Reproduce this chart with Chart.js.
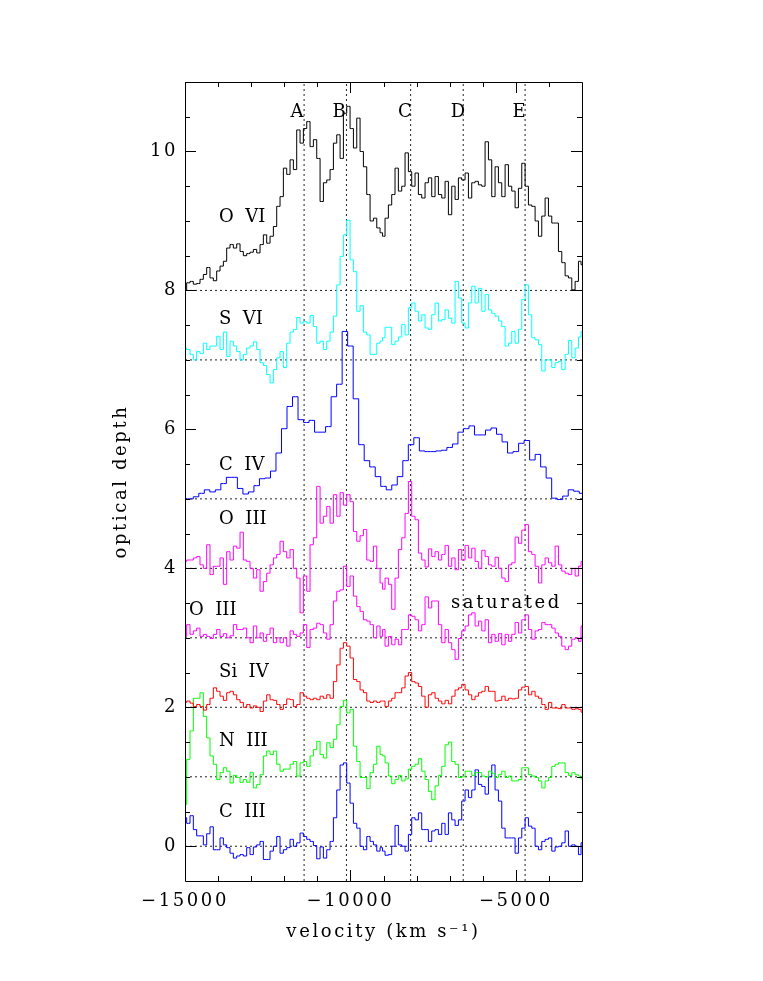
<!DOCTYPE html>
<html>
<head>
<meta charset="utf-8">
<title>optical depth</title>
<script src="https://cdn.jsdelivr.net/npm/chart.js@4/dist/chart.umd.min.js"></script>
<style>
  html, body { margin: 0; padding: 0; background: #fff; }
  canvas { display: block; }
</style>
</head>
<body>
<canvas id="grafico" width="763" height="981"></canvas>
<script>
// velocity bins (km/s)
const velFine = [
  -15000,-14899,-14798,-14698,-14597,-14496,-14395,-14294,-14194,-14093,
  -13992,-13891,-13790,-13690,-13589,-13488,-13387,-13286,-13186,-13085,
  -12984,-12883,-12782,-12682,-12581,-12480,-12379,-12278,-12178,-12077,
  -11976,-11875,-11774,-11674,-11573,-11472,-11371,-11270,-11170,-11069,
  -10968,-10867,-10766,-10666,-10565,-10464,-10363,-10262,-10162,-10061,
  -9960,-9859,-9758,-9658,-9557,-9456,-9355,-9254,-9154,-9053,
  -9004,-8903,-8802,-8702,-8601,-8500,-8399,-8298,-8198,-8097,
  -7996,-7895,-7794,-7694,-7593,-7492,-7391,-7290,-7190,-7089,
  -6988,-6887,-6786,-6686,-6585,-6484,-6383,-6282,-6182,-6081,
  -5980,-5879,-5778,-5678,-5577,-5476,-5375,-5274,-5174,-5073,
  -4972,-4871,-4770,-4670,-4569,-4468,-4367,-4266,-4166,-4065,
  -3964,-3863,-3762,-3662,-3561,-3460,-3359,-3258,-3158,-3057,
  -3000
];
const velCoarse = [
  -15000,-14833,-14667,-14500,-14333,-14167,-14000,-13833,-13667,-13500,
  -13333,-13167,-13000,-12833,-12667,-12500,-12333,-12167,-12000,-11833,
  -11667,-11500,-11333,-11167,-11000,-10833,-10667,-10500,-10333,-10167,
  -10000,-9833,-9667,-9500,-9333,-9167,-9000,-8833,-8667,-8500,
  -8333,-8167,-8000,-7833,-7667,-7500,-7333,-7167,-7000,-6833,
  -6667,-6500,-6333,-6167,-6000,-5833,-5667,-5500,-5333,-5167,
  -5000,-4833,-4667,-4500,-4333,-4167,-4000,-3833,-3667,-3500,
  -3333,-3167,-3000
];

const oVI = [
  8.0,8.11,8.13,8.09,8.10,8.16,8.23,8.33,8.18,8.14,
  8.28,8.35,8.42,8.61,8.66,8.61,8.67,8.56,8.50,8.53,
  8.55,8.59,8.54,8.66,8.80,8.68,8.78,8.92,9.21,9.35,
  9.76,9.67,9.88,9.74,10.31,10.12,10.33,10.43,10.07,10.17,
  9.90,9.28,9.55,9.59,9.74,10.12,10.24,9.90,10.55,10.65,
  10.33,10.05,10.48,10.0,9.78,9.38,9.0,9.04,8.90,8.83,
  8.78,9.04,9.23,9.38,9.76,9.43,9.50,9.98,9.71,9.50,
  9.69,9.38,9.33,9.55,9.62,9.35,9.64,9.38,9.33,9.57,
  9.09,9.50,9.31,9.62,9.59,9.69,9.33,9.55,9.57,9.52,
  9.50,10.14,9.88,9.35,9.78,9.55,9.35,9.81,9.50,9.43,
  9.19,9.47,9.83,9.50,9.23,9.21,9.0,8.78,9.07,9.33,
  9.07,8.97,8.97,8.56,8.40,8.21,8.18,8.01,8.13,8.42,
  8.37
];
const sVI = [
  7.17,7.15,7.08,7.0,7.12,7.09,7.24,7.15,7.20,7.20,
  7.34,7.15,7.40,7.05,7.27,7.20,7.12,7.0,7.08,7.17,
  7.20,7.26,7.15,6.96,6.92,6.79,6.67,6.86,7.03,7.12,
  6.89,7.24,7.40,7.44,7.61,7.53,7.55,7.53,7.64,7.48,
  7.24,7.27,7.15,7.27,7.40,7.63,8.08,8.49,8.80,9.01,
  8.44,8.27,7.70,7.78,7.40,7.36,7.08,7.08,7.24,7.27,
  7.32,7.47,7.47,7.22,7.27,7.33,7.51,7.36,7.75,7.82,
  7.70,7.56,7.65,7.46,7.44,7.65,7.82,7.56,7.58,7.72,
  7.60,7.53,8.13,7.89,7.53,7.46,7.82,8.06,7.82,8.03,
  7.70,7.94,7.72,7.67,7.63,7.56,7.48,7.20,7.24,7.41,
  7.24,7.44,7.87,8.08,7.65,7.32,7.29,7.22,6.84,7.0,
  7.0,6.89,6.96,6.98,6.86,7.08,7.28,7.03,7.17,7.33,
  7.41
];
const cIV = [
  5.0,5.0,5.03,5.08,5.13,5.10,5.13,5.22,5.31,5.31,
  5.15,5.07,5.10,5.19,5.29,5.30,5.40,5.66,6.01,6.33,
  6.47,6.14,6.10,6.13,5.96,5.96,6.04,6.47,6.65,7.41,
  7.20,6.44,5.78,5.55,5.46,5.32,5.18,5.13,5.20,5.32,
  5.55,5.78,5.88,5.69,5.68,5.68,5.69,5.70,5.74,5.79,
  5.96,6.01,6.05,5.92,5.92,5.99,6.02,5.93,5.82,5.66,
  5.68,5.80,5.84,5.56,5.64,5.46,5.30,5.01,4.99,5.04,
  5.13,5.11,5.08
];
const oIIIa = [
  4.10,4.12,4.12,4.15,4.17,4.05,4.0,4.34,3.91,4.03,
  4.03,4.15,3.77,4.24,4.12,4.32,4.29,4.52,4.12,4.10,
  4.0,3.86,3.98,3.67,3.81,3.93,4.05,4.15,4.20,4.39,
  4.24,4.15,4.27,4.0,3.86,3.36,3.89,3.67,4.34,4.44,
  5.18,4.65,4.75,4.89,4.65,5.06,4.75,5.09,4.91,5.06,
  4.96,4.53,4.39,4.47,4.56,4.12,4.10,4.32,4.0,3.79,
  3.70,3.86,3.77,3.41,3.86,4.27,4.44,4.79,5.25,4.75,
  4.70,4.22,4.12,4.02,4.28,4.17,4.24,4.12,4.20,4.33,
  4.03,4.15,3.98,4.27,4.12,4.33,4.15,4.29,4.10,4.0,
  4.26,4.17,4.05,4.03,4.16,4.0,3.86,3.81,4.05,4.08,
  4.45,4.36,4.55,4.63,4.24,4.20,4.03,3.79,4.05,4.15,
  4.08,4.03,4.32,4.05,3.96,3.93,3.91,4.0,3.89,4.03,
  4.10
];
const oIIIb = [
  3.02,3.19,3.05,3.10,3.14,3.02,3.05,3.02,2.99,3.05,
  3.12,3.02,3.06,3.0,3.03,3.19,3.12,3.12,3.14,3.0,
  2.93,3.17,3.0,3.07,2.95,3.05,3.14,2.93,3.0,2.93,
  3.0,2.88,3.10,3.05,3.02,3.07,3.19,2.86,3.12,3.14,
  3.21,3.19,3.07,2.98,3.19,3.53,3.67,3.69,4.03,3.74,
  3.89,3.60,3.45,3.38,3.26,3.24,3.19,3.0,3.17,3.02,
  3.12,2.88,3.02,2.90,2.98,2.90,3.12,3.12,3.33,3.31,
  3.26,3.10,3.19,3.59,3.43,3.53,3.53,3.19,2.93,3.12,
  2.93,2.83,2.69,2.99,3.10,3.17,3.33,3.36,3.17,3.24,
  3.10,3.26,2.93,3.05,2.95,3.06,2.90,3.05,2.95,3.05,
  3.22,3.07,3.26,3.33,3.12,2.98,3.10,3.12,3.22,3.19,
  3.19,3.14,3.07,3.02,2.88,2.83,2.88,2.98,3.0,2.95,
  3.17
];
const siIV = [
  2.07,2.09,2.06,2.01,2.04,2.01,1.96,2.04,2.13,2.28,
  2.23,2.16,2.10,2.21,2.23,2.18,2.11,2.07,2.0,2.04,
  1.99,2.02,2.0,1.94,2.09,2.18,2.11,2.10,2.04,1.97,
  2.04,2.12,2.11,2.01,2.04,2.21,2.16,2.13,2.11,2.13,
  2.11,2.16,2.13,2.18,2.13,2.37,2.61,2.85,2.93,2.88,
  2.71,2.40,2.37,2.25,2.21,2.09,2.07,2.09,2.07,2.09,
  2.09,2.01,2.09,2.13,2.21,2.21,2.28,2.45,2.50,2.37,
  2.35,2.30,2.16,2.0,2.18,2.21,2.13,2.09,2.05,2.10,
  2.05,2.16,2.25,2.28,2.33,2.25,2.18,2.11,2.16,2.21,
  2.23,2.30,2.23,2.23,2.09,2.10,2.16,2.10,2.13,2.12,
  2.13,2.25,2.29,2.30,2.18,2.23,2.16,2.13,2.04,1.97,
  2.07,1.99,1.99,1.98,2.04,1.99,1.99,1.97,1.98,1.97,
  1.93
];
const nIII = [
  0.60,1.25,1.66,2.13,2.13,2.21,1.87,1.56,1.30,1.18,
  0.96,1.06,1.13,1.08,0.91,1.02,0.99,0.92,0.96,0.92,
  1.06,0.84,0.89,1.03,1.30,1.37,1.32,1.37,1.18,1.08,
  1.11,1.11,1.18,1.22,1.01,1.20,1.22,1.15,1.30,1.39,
  1.51,1.32,1.27,1.49,1.42,1.54,1.75,2.01,2.10,1.92,
  1.97,1.44,1.22,0.99,0.99,0.83,1.06,1.18,1.44,1.32,
  1.30,1.20,1.01,0.90,0.96,1.02,0.94,0.97,1.11,1.15,
  1.18,1.26,1.08,0.96,0.79,0.67,0.87,1.02,1.15,1.46,
  1.50,1.22,1.18,0.99,1.0,1.08,1.08,1.02,1.06,1.06,
  1.01,1.0,1.08,1.05,0.99,1.03,1.08,0.99,1.01,0.94,
  0.94,0.96,1.13,1.13,1.03,1.01,0.99,0.94,0.84,0.94,
  0.99,1.15,1.18,1.20,1.20,1.06,1.02,1.06,1.03,1.01,
  0.97
];
const cIII = [
  0.41,0.33,0.44,0.24,0.15,0.15,0.02,0.18,0.28,-0.05,
  -0.05,0.12,0.02,-0.02,-0.10,-0.17,-0.14,-0.12,-0.14,-0.02,
  -0.12,-0.01,0.02,0.07,-0.19,-0.19,-0.07,0,0.14,-0.10,
  -0.05,-0.02,0.10,0,0.05,0.19,0.14,0.10,0.07,0.01,
  -0.18,-0.01,-0.17,-0.05,0.07,0.41,0.81,1.17,1.20,0.91,
  0.62,0.33,0.26,0,-0.05,0.14,0.07,0.02,-0.07,-0.02,
  -0.07,-0.13,-0.12,0,0.30,0.02,0,-0.07,0.17,0.41,
  0.38,0.48,0.24,0.24,0.07,0.22,0.24,0.17,0.33,0.17,
  0.48,0.38,0.30,0.38,0.65,0.81,0.70,0.81,1.10,0.89,
  0.86,0.75,1.0,1.17,0.81,0.65,0.26,0.12,0.12,0.12,
  -0.10,0.12,0.26,0.41,0.29,0.26,0,-0.05,0.07,0.10,
  0.12,-0.07,-0.01,0,0.05,0.22,0,0.02,0,-0.12,
  0.05
];

// dotted guides
const baselines = [8, 7, 5, 4, 3, 2, 1, 0];
const components = [-11400, -10120, -8180, -6590, -4720];

// text inside the plot: [text, velocity, depth]
const ionLabels = [
  ['O  VI', -13970, 9.05],
  ['S  VI', -13970, 7.59],
  ['C  IV', -13970, 5.48],
  ['O  III', -13970, 4.71],
  ['O  III', -14880, 3.39],
  ['Si  IV', -13970, 2.50],
  ['N  III', -13970, 1.51],
  ['C  III', -13970, 0.49]
];
const sideNote = ['saturated', -6960, 3.49];
const componentNames = ['A', 'B', 'C', 'D', 'E'];
const componentNameVel = [-11614, -10345, -8350, -6747, -4903];
const componentNameDepth = 10.56;

const xMajor = [-15000, -10000, -5000];
const xMinor = [-14000, -13000, -12000, -11000, -9000, -8000, -7000, -6000, -4000];
const yMajor = [0, 2, 4, 6, 8, 10];
const yMinor = [0.5, 1, 1.5, 2.5, 3, 3.5, 4.5, 5, 5.5, 6.5, 7, 7.5, 8.5, 9, 9.5, 10.5];

const fuente = '"DejaVu Serif"';

function puntos(xs, ys) {
  return xs.map((x, i) => ({ x: x, y: ys[i] }));
}

function espectro(vel, valores, color) {
  return {
    data: puntos(vel, valores),
    borderColor: color,
    borderWidth: 1,
    stepped: 'middle',
    pointRadius: 0,
    fill: false
  };
}

function guia(data) {
  return {
    data: data,
    borderColor: '#222',
    borderWidth: 1,
    borderDash: [2, 3],
    pointRadius: 0,
    fill: false
  };
}

const marco = {
  id: 'marco',
  // axis text in the reference is set wide
  beforeDraw(chart) {
    chart.ctx.letterSpacing = '2.6px';
  },
  afterDatasetsDraw(chart) {
    const { ctx, chartArea: a, scales: { x, y } } = chart;
    ctx.save();
    ctx.strokeStyle = '#000';
    ctx.lineWidth = 1;
    ctx.beginPath();
    ctx.rect(Math.round(a.left) + 0.5, Math.round(a.top) + 0.5, Math.round(a.right - a.left), Math.round(a.bottom - a.top));
    const tickX = (v, len) => {
      const px = Math.round(x.getPixelForValue(v)) + 0.5;
      ctx.moveTo(px, a.bottom); ctx.lineTo(px, a.bottom - len);
      ctx.moveTo(px, a.top); ctx.lineTo(px, a.top + len);
    };
    const tickY = (v, len) => {
      const py = Math.round(y.getPixelForValue(v)) + 0.5;
      ctx.moveTo(a.left, py); ctx.lineTo(a.left + len, py);
      ctx.moveTo(a.right, py); ctx.lineTo(a.right - len, py);
    };
    xMajor.forEach(v => tickX(v, 11));
    xMinor.forEach(v => tickX(v, 5));
    yMajor.forEach(v => tickY(v, 11));
    yMinor.forEach(v => tickY(v, 5));
    ctx.stroke();

    ctx.fillStyle = '#000';
    ctx.font = '18px ' + fuente;
    ctx.textBaseline = 'middle';
    ctx.textAlign = 'left';
    ctx.fillText(sideNote[0], x.getPixelForValue(sideNote[1]), y.getPixelForValue(sideNote[2]));
    ctx.letterSpacing = '0px';
    ionLabels.forEach(l => {
      ctx.fillText(l[0], x.getPixelForValue(l[1]), y.getPixelForValue(l[2]));
    });
    ctx.textAlign = 'center';
    componentNames.forEach((n, i) => {
      ctx.fillText(n, x.getPixelForValue(componentNameVel[i]), y.getPixelForValue(componentNameDepth));
    });
    ctx.restore();
  }
};

const datasets = [
  espectro(velFine, oVI, '#000000'),
  espectro(velFine, sVI, '#00ffff'),
  espectro(velCoarse, cIV, '#0000ff'),
  espectro(velFine, oIIIa, '#ff00ff'),
  espectro(velFine, oIIIb, '#ff00ff'),
  espectro(velFine, siIV, '#ff0000'),
  espectro(velFine, nIII, '#00ff00'),
  espectro(velFine, cIII, '#0000ff')
];
baselines.forEach(b => datasets.push(guia([{ x: -15000, y: b }, { x: -3000, y: b }])));
components.forEach(c => datasets.push(guia([{ x: c, y: -0.5 }, { x: c, y: 11 }])));

new Chart(document.getElementById('grafico').getContext('2d'), {
  type: 'line',
  data: { datasets: datasets },
  options: {
    responsive: false,
    animation: false,
    layout: { padding: { top: 82, right: 181, bottom: 0, left: 0 } },
    plugins: { legend: { display: false }, tooltip: { enabled: false } },
    scales: {
      x: {
        type: 'linear',
        min: -15000,
        max: -3000,
        afterFit: s => { s.height = 100; },
        afterBuildTicks: s => { s.ticks = xMajor.map(v => ({ value: v })); },
        grid: { display: false, drawTicks: false },
        border: { display: false },
        ticks: {
          color: '#000',
          font: { family: fuente, size: 18 },
          padding: 10,
          maxRotation: 0,
          callback: v => '\u2212' + Math.abs(v)
        },
        title: {
          display: true,
          text: 'velocity (km s\u207B\u00B9)',
          color: '#000',
          font: { family: fuente, size: 18 },
          padding: { top: 0, bottom: 38 }
        }
      },
      y: {
        type: 'linear',
        min: -0.5,
        max: 11,
        afterFit: s => { s.width = 185; },
        afterBuildTicks: s => { s.ticks = yMajor.map(v => ({ value: v })); },
        grid: { display: false, drawTicks: false },
        border: { display: false },
        ticks: {
          color: '#000',
          font: { family: fuente, size: 18 },
          padding: 7,
          callback: v => String(v)
        },
        title: {
          display: true,
          text: 'optical depth',
          color: '#000',
          font: { family: fuente, size: 18 },
          padding: { top: 111, bottom: 0 }
        }
      }
    }
  },
  plugins: [marco]
});
</script>
</body>
</html>
